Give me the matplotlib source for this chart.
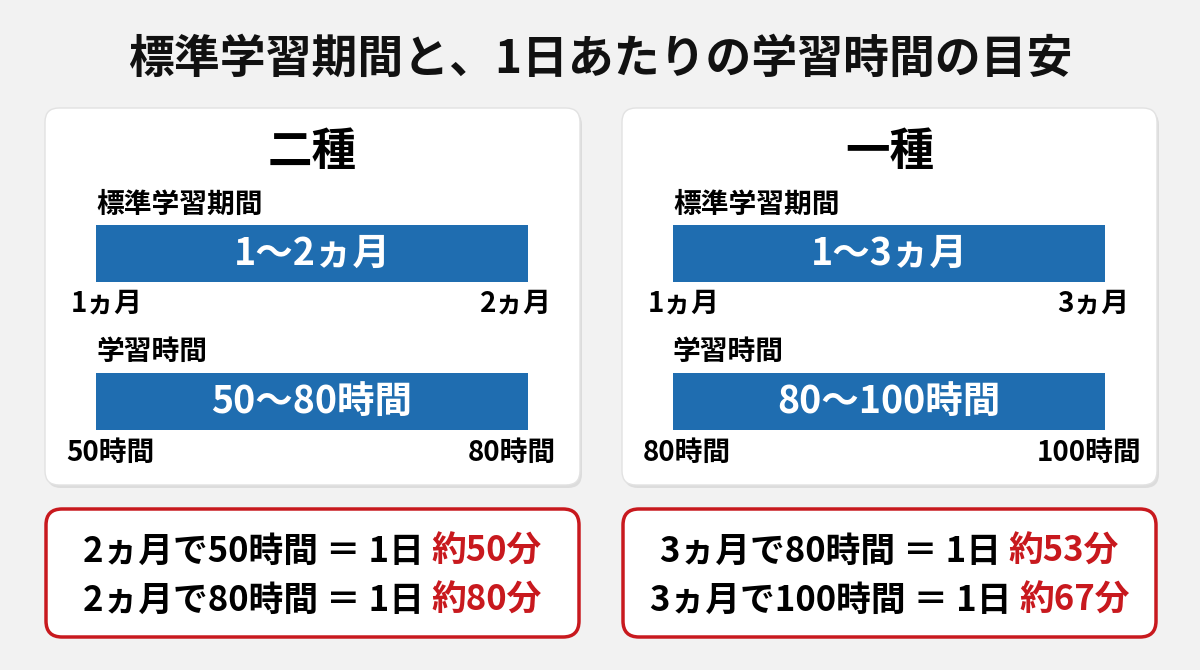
import matplotlib
matplotlib.use("Agg")
import matplotlib.pyplot as plt
from matplotlib.patches import FancyBboxPatch

plt.rcParams['font.family'] = ['Noto Sans CJK JP', 'DejaVu Sans']

title = "標準学習期間と、1日あたりの学習時間の目安"
panels = ["二種", "一種"]
period_lo = [1, 1]; period_hi = [2, 3]
hours_lo = [50, 80]; hours_hi = [80, 100]
results = [[("2ヵ月で50時間 ＝ 1日 ", "約50分"), ("2ヵ月で80時間 ＝ 1日 ", "約80分")],
           [("3ヵ月で80時間 ＝ 1日 ", "約53分"), ("3ヵ月で100時間 ＝ 1日 ", "約67分")]]

W, H = 1200, 670
fig = plt.figure(figsize=(12, 6.7), dpi=100)
fig.patch.set_facecolor("#f2f2f2")
bg = fig.add_axes([0, 0, 1, 1]); bg.set_xlim(0, W); bg.set_ylim(H, 0); bg.axis("off")
BLUE = "#1f6db0"; RED = "#c8191e"

bg.text(600, 60, title, ha="center", va="center", fontsize=33, fontweight="bold", color="#111")

def fx(x): return x / W
def fy(y): return 1 - y / H

def bar(x0, x1, y0, y1, lo, hi, label):
    ax = fig.add_axes([fx(x0), fy(y1), fx(x1 - x0), (y1 - y0) / H])
    ax.barh(0, hi - lo, left=lo, height=1, color=BLUE)
    ax.set_xlim(lo, hi); ax.set_ylim(-0.5, 0.5); ax.axis("off")
    ax.text((lo + hi) / 2, 0, label, ha="center", va="center", color="white", fontsize=27, fontweight="bold")

fig.canvas.draw()
r = fig.canvas.get_renderer()

for i, name in enumerate(panels):
    X0 = 45 + i * 577; X1 = X0 + 535; cx = (X0 + X1) / 2
    bg.add_patch(FancyBboxPatch((X0 + 2, 111), X1 - X0, 377, boxstyle="round,pad=0,rounding_size=14",
                                fc="#dcdcdc", ec="none", zorder=1))
    bg.add_patch(FancyBboxPatch((X0, 108), X1 - X0, 377, boxstyle="round,pad=0,rounding_size=14",
                                fc="white", ec="#e2e2e2", lw=1, zorder=2))
    bg.text(cx, 152, name, ha="center", va="center", fontsize=32, fontweight="bold", zorder=3)
    bx0, bx1 = X0 + 51, X1 - 52
    bg.text(bx0, 205, "標準学習期間", ha="left", va="center", fontsize=20, fontweight="bold", zorder=3)
    bar(bx0, bx1, 225, 282, period_lo[i], period_hi[i], f"{period_lo[i]}〜{period_hi[i]}ヵ月")
    bg.text(bx0 + 11, 304, f"{period_lo[i]}ヵ月", ha="center", va="center", fontsize=20, fontweight="bold", zorder=3)
    bg.text(bx1 - 12, 304, f"{period_hi[i]}ヵ月", ha="center", va="center", fontsize=20, fontweight="bold", zorder=3)
    bg.text(bx0, 352, "学習時間", ha="left", va="center", fontsize=20, fontweight="bold", zorder=3)
    bar(bx0, bx1, 373, 430, hours_lo[i], hours_hi[i], f"{hours_lo[i]}〜{hours_hi[i]}時間")
    bg.text(bx0 + 14, 453, f"{hours_lo[i]}時間", ha="center", va="center", fontsize=20, fontweight="bold", zorder=3)
    bg.text(bx1 - 16, 453, f"{hours_hi[i]}時間", ha="center", va="center", fontsize=20, fontweight="bold", zorder=3)

    bg.add_patch(FancyBboxPatch((X0 + 1, 509), X1 - X0 - 2, 128, boxstyle="round,pad=0,rounding_size=16",
                                fc="white", ec=RED, lw=2.5, zorder=2))
    for j, (a, b) in enumerate(results[i]):
        y = 551 + j * 49
        ta = bg.text(0, y, a, ha="left", va="center", fontsize=25, fontweight="bold", zorder=3)
        tb = bg.text(0, y, b, ha="left", va="center", fontsize=25, fontweight="bold", color=RED, zorder=3)
        wa = ta.get_window_extent(r).width; wb = tb.get_window_extent(r).width
        start = cx - (wa + wb) / 2
        ta.set_x(start); tb.set_x(start + wa)

fig.savefig("out.png", dpi=100, facecolor=fig.get_facecolor())
